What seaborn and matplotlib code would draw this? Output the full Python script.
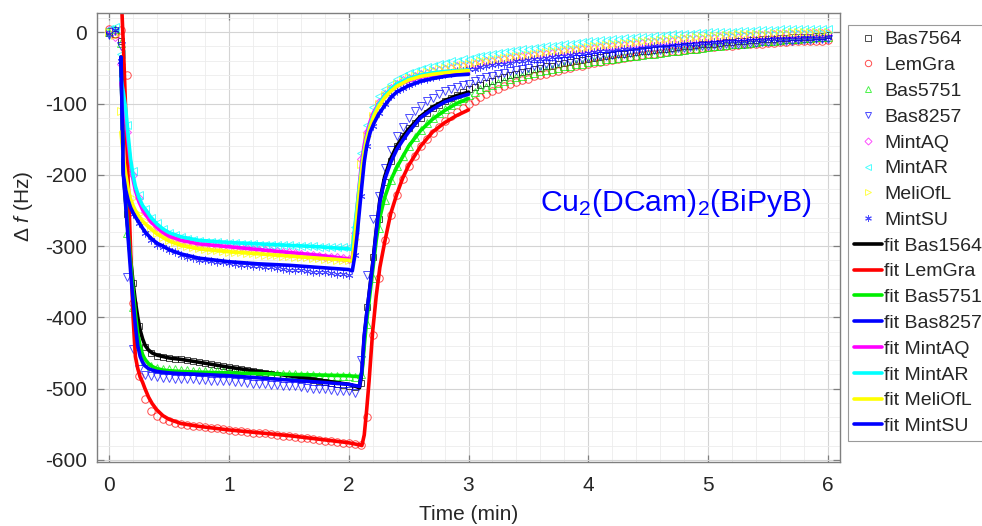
import numpy as np
import matplotlib
matplotlib.use("Agg")
import matplotlib.pyplot as plt
from matplotlib.lines import Line2D
from matplotlib.ticker import MultipleLocator
import seaborn as sns

# ---------------------------------------------------------------- data
# QCM frequency shift, sampled every 3 s (0.05 min) from 0 to 6 min
time_min = np.round(np.linspace(0.0, 6.0, 121), 2)

bas7564 = [
    2, -3, -12, -255, -352, -412, -441, -450, -454, -456,
    -457, -458, -459, -460, -461, -463, -464, -466, -467, -469,
    -470, -471, -473, -474, -475, -477, -478, -480, -481, -482,
    -483, -485, -486, -487, -488, -490, -491, -492, -493, -495,
    -496, -498, -492, -385, -315, -262, -210, -180, -160, -146,
    -135, -127, -120, -113, -107, -102, -97, -92, -88, -84,
    -80, -77, -74, -71, -68, -65, -63, -60, -58, -56,
    -54, -52, -50, -48, -47, -45, -43, -42, -40, -39,
    -37, -36, -35, -33, -32, -31, -30, -29, -28, -27,
    -26, -25, -24, -23, -22, -21, -20, -19, -18, -17,
    -17, -16, -15, -14, -14, -13, -12, -11, -11, -10,
    -9, -9, -8, -8, -7, -7, -6, -6, -5, -5,
    -4]
lemgra = [
    4, -2, 3, -60, -380, -482, -515, -532, -538, -542,
    -545, -548, -550, -551, -552, -553, -554, -555, -556, -557,
    -558, -559, -560, -561, -562, -562, -563, -564, -565, -566,
    -567, -568, -569, -570, -571, -572, -573, -574, -575, -576,
    -577, -578, -579, -540, -425, -345, -292, -256, -228, -206,
    -188, -173, -160, -150, -141, -133, -125, -118, -112, -106,
    -100, -96, -91, -87, -83, -79, -76, -73, -70, -67,
    -65, -62, -60, -58, -56, -54, -52, -50, -48, -47,
    -45, -43, -42, -40, -39, -37, -36, -35, -33, -32,
    -31, -30, -29, -28, -27, -26, -25, -24, -23, -22,
    -21, -21, -20, -19, -19, -18, -17, -17, -16, -16,
    -15, -15, -14, -14, -13, -13, -13, -12, -12, -12,
    -11]
bas5751 = [
    1, 4, -15, -282, -385, -440, -461, -468, -471, -472,
    -473, -473, -474, -474, -475, -475, -475, -476, -476, -476,
    -477, -477, -477, -478, -478, -478, -479, -479, -479, -480,
    -480, -480, -481, -481, -481, -482, -482, -482, -483, -483,
    -483, -484, -480, -410, -345, -275, -236, -208, -188, -173,
    -159, -147, -137, -128, -121, -114, -108, -102, -97, -92,
    -88, -84, -80, -77, -74, -71, -68, -65, -63, -61,
    -59, -57, -55, -53, -51, -50, -48, -47, -45, -44,
    -42, -41, -40, -38, -37, -36, -35, -34, -33, -32,
    -31, -30, -29, -28, -27, -26, -25, -24, -23, -22,
    -21, -20, -19, -18, -17, -17, -16, -15, -14, -13,
    -12, -12, -11, -10, -10, -9, -8, -8, -7, -6,
    -6]
bas8257 = [
    -4, 2, -20, -343, -445, -472, -481, -483, -484, -485,
    -485, -486, -486, -487, -487, -488, -488, -489, -489, -490,
    -490, -491, -491, -492, -493, -493, -494, -495, -495, -496,
    -497, -497, -498, -499, -500, -500, -501, -502, -503, -503,
    -504, -506, -460, -340, -262, -230, -190, -165, -146, -133,
    -120, -110, -103, -97, -92, -87, -83, -80, -77, -74,
    -72, -69, -66, -63, -61, -59, -57, -55, -53, -52,
    -50, -48, -47, -45, -44, -42, -41, -40, -38, -37,
    -36, -35, -34, -33, -32, -31, -30, -29, -28, -27,
    -26, -25, -25, -24, -23, -22, -22, -21, -20, -20,
    -19, -18, -18, -17, -17, -16, -16, -15, -15, -14,
    -14, -13, -13, -12, -12, -11, -11, -11, -10, -10,
    -10]
mintaq = [
    3, -6, -45, -140, -200, -232, -252, -264, -273, -280,
    -285, -289, -292, -294, -296, -297, -298, -299, -300, -300,
    -301, -302, -302, -303, -304, -305, -306, -307, -307, -308,
    -309, -310, -311, -312, -313, -314, -315, -315, -316, -317,
    -318, -282, -178, -140, -116, -98, -86, -78, -72, -67,
    -64, -61, -59, -57, -55, -53, -51, -50, -48, -47,
    -46, -44, -43, -41, -40, -39, -37, -36, -35, -34,
    -33, -32, -31, -30, -29, -28, -27, -26, -25, -24,
    -23, -22, -21, -20, -19, -18, -18, -17, -16, -15,
    -14, -14, -13, -12, -12, -11, -10, -10, -9, -9,
    -8, -8, -7, -7, -6, -6, -5, -5, -4, -4,
    -4, -3, -3, -3, -2, -2, -2, -1, -1, -1,
    -1]
mintar = [
    5, 8, -30, -130, -195, -228, -248, -260, -268, -276,
    -281, -285, -288, -290, -292, -293, -294, -295, -295, -296,
    -296, -296, -297, -297, -297, -298, -298, -298, -299, -299,
    -299, -300, -300, -300, -300, -301, -301, -301, -302, -302,
    -302, -273, -170, -130, -105, -90, -80, -72, -66, -61,
    -57, -54, -51, -49, -47, -45, -43, -41, -40, -38,
    -37, -35, -34, -32, -31, -29, -28, -27, -25, -24,
    -23, -22, -21, -20, -19, -18, -17, -16, -15, -14,
    -13, -12, -11, -11, -10, -9, -8, -8, -7, -6,
    -6, -5, -5, -4, -3, -3, -2, -2, -1, -1,
    0, 0, 1, 1, 1, 2, 2, 2, 3, 3,
    3, 3, 4, 4, 4, 4, 4, 5, 5, 5,
    5]
meliofl = [
    1, -4, -110, -190, -232, -255, -265, -274, -281, -287,
    -291, -295, -298, -300, -302, -303, -304, -305, -306, -307,
    -308, -308, -309, -310, -310, -311, -312, -312, -313, -314,
    -314, -315, -315, -316, -317, -317, -318, -318, -319, -320,
    -320, -290, -185, -146, -118, -100, -88, -79, -73, -68,
    -64, -61, -58, -56, -54, -52, -50, -49, -47, -46,
    -44, -43, -41, -40, -39, -37, -36, -35, -34, -33,
    -32, -30, -29, -28, -27, -26, -25, -24, -23, -22,
    -21, -20, -19, -18, -17, -16, -15, -15, -14, -13,
    -12, -12, -11, -10, -9, -9, -8, -8, -7, -6,
    -6, -5, -5, -4, -4, -3, -3, -3, -2, -2,
    -2, -1, -1, -1, 0, 0, 0, 0, 1, 1,
    1]
mintsu = [
    -3, 3, -40, -228, -255, -268, -282, -291, -298, -302,
    -306, -309, -312, -315, -317, -319, -320, -321, -322, -323,
    -324, -325, -326, -327, -328, -328, -329, -330, -331, -332,
    -333, -333, -334, -335, -336, -336, -337, -338, -339, -339,
    -340, -312, -230, -160, -132, -114, -100, -90, -83, -78,
    -74, -70, -67, -65, -63, -61, -59, -57, -55, -54,
    -52, -51, -49, -48, -46, -45, -44, -43, -41, -40,
    -39, -38, -37, -36, -35, -34, -33, -32, -31, -30,
    -29, -28, -27, -26, -26, -25, -24, -23, -23, -22,
    -21, -20, -20, -19, -18, -18, -17, -17, -16, -15,
    -15, -14, -14, -13, -13, -12, -12, -11, -11, -11,
    -10, -10, -10, -9, -9, -9, -8, -8, -8, -8,
    -7]

# fitted curves, strong-uptake samples
fit_time_a = [0.10, 0.12, 0.14, 0.16, 0.18, 0.20, 0.22, 0.24, 0.26, 0.28,
              0.30, 0.33, 0.36, 0.40, 0.45, 0.50, 0.60, 0.75, 1.00, 1.25,
              1.50, 1.75, 2.00, 2.06, 2.09, 2.11, 2.13, 2.15, 2.17, 2.20,
              2.23, 2.26, 2.30, 2.35, 2.40, 2.45, 2.50, 2.60, 2.70, 2.80,
              2.90, 3.00]
fit_bas1564 = [-35, -195, -240, -280, -318, -350, -378, -400, -418, -430,
               -439, -446, -450, -453, -455, -457, -459, -463, -470, -476,
               -482, -488, -494, -497, -499, -478, -428, -397, -368, -325,
               -278, -236, -203, -178, -160, -147, -136, -118, -105, -96,
               -89, -84]
fit_lemgra = [60, -19, -114, -209, -304, -397, -455, -472, -484, -491,
              -500, -512, -521, -530, -538, -543, -549, -553, -558, -562,
              -566, -571, -576, -578, -579, -580, -565, -530, -490, -420,
              -370, -330, -295, -255, -228, -205, -187, -160, -140, -127,
              -117, -109]
fit_bas5751 = [-35, -195, -240, -282, -322, -360, -395, -423, -441, -452,
               -459, -465, -469, -472, -474, -475, -476, -477, -478, -479,
               -480, -481, -482, -483, -483, -480, -440, -405, -378, -335,
               -292, -260, -232, -208, -190, -175, -160, -138, -122, -110,
               -100, -93]
fit_bas8257 = [-35, -200, -245, -290, -335, -375, -412, -440, -455, -463,
               -468, -472, -474, -476, -477, -478, -479, -480, -482, -485,
               -488, -491, -494, -496, -497, -475, -425, -395, -368, -327,
               -280, -238, -207, -183, -165, -152, -140, -120, -108, -98,
               -92, -87]

# fitted curves, weak-uptake samples
fit_time_b = [0.10, 0.12, 0.14, 0.16, 0.18, 0.20, 0.22, 0.25, 0.28, 0.31,
              0.35, 0.40, 0.45, 0.50, 0.60, 0.75, 1.00, 1.25, 1.50, 1.75,
              2.00, 2.03, 2.05, 2.07, 2.09, 2.11, 2.13, 2.15, 2.18, 2.21,
              2.25, 2.30, 2.35, 2.40, 2.50, 2.60, 2.70, 2.80, 2.90, 3.00]
fit_mintaq = [-70, -95, -120, -155, -185, -206, -222, -238, -249, -257,
              -266, -274, -281, -286, -292, -297, -301, -305, -309, -313,
              -318, -319, -280, -248, -212, -180, -158, -142, -125, -112,
              -100, -89, -81, -75, -68, -63, -60, -58, -57, -56]
fit_mintar = [-65, -85, -108, -145, -178, -200, -216, -232, -243, -250,
              -260, -269, -276, -281, -287, -292, -295, -297, -299, -301,
              -304, -305, -275, -245, -215, -188, -165, -148, -129, -115,
              -101, -89, -80, -73, -65, -60, -57, -55, -54, -53]
fit_meliofl = [-140, -175, -200, -220, -234, -243, -250, -258, -265, -270,
               -276, -283, -288, -293, -299, -304, -308, -311, -314, -317,
               -320, -321, -290, -255, -222, -192, -168, -150, -132, -118,
               -104, -92, -83, -76, -67, -62, -59, -57, -55, -54]
fit_mintsu = [-35, -200, -222, -236, -246, -253, -259, -267, -275, -282,
              -289, -296, -300, -305, -311, -317, -322, -325, -327, -330,
              -333, -335, -315, -285, -250, -215, -182, -160, -140, -128,
              -115, -103, -92, -84, -75, -69, -65, -62, -60, -59]

data_labels = ["Bas7564", "LemGra", "Bas5751", "Bas8257",
               "MintAQ", "MintAR", "MeliOfL", "MintSU"]
fit_labels = ["fit Bas1564", "fit LemGra", "fit Bas5751", "fit Bas8257",
              "fit MintAQ", "fit MintAR", "fit MeliOfL", "fit MintSU"]

# ---------------------------------------------------------------- style
sns.set_theme(style="white")
plt.rcParams["font.family"] = ["Liberation Sans", "DejaVu Sans"]
plt.rcParams["mathtext.fontset"] = "custom"
plt.rcParams["mathtext.rm"] = "Liberation Sans"
plt.rcParams["mathtext.it"] = "Liberation Sans:italic"
plt.rcParams["axes.unicode_minus"] = False

colors = ["#000000", "#ff0000", "#00ee00", "#0000ff",
          "#ff00ff", "#00ffff", "#ffff00", "#0000ff"]
markers = ["s", "o", "^", "v", "D", "<", ">", (6, 2, 0)]
marker_sizes = [4.4, 5.4, 5.2, 5.2, 4.2, 5.2, 5.2, 5.6]

fig = plt.figure(figsize=(9.82, 5.26), dpi=100)
ax = fig.add_axes([0.0988, 0.1217, 0.7566, 0.8536])

data_series = [bas7564, lemgra, bas5751, bas8257, mintaq, mintar, meliofl, mintsu]
fit_series = [(fit_time_a, fit_bas1564), (fit_time_a, fit_lemgra),
              (fit_time_a, fit_bas5751), (fit_time_a, fit_bas8257),
              (fit_time_b, fit_mintaq), (fit_time_b, fit_mintar),
              (fit_time_b, fit_meliofl), (fit_time_b, fit_mintsu)]

# measured points: open markers
for vals, c, m, ms in zip(data_series, colors, markers, marker_sizes):
    sns.lineplot(x=time_min, y=vals, ax=ax, estimator=None, sort=False,
                 legend=False, color=c, linestyle="none", marker=m,
                 markersize=ms, markerfacecolor="none", markeredgecolor=c,
                 markeredgewidth=0.7, alpha=0.7)

# fitted curves: thick solid lines on top
for (tt, vv), c in zip(fit_series, colors):
    sns.lineplot(x=tt, y=vv, ax=ax, estimator=None, sort=False,
                 legend=False, color=c, linewidth=2.6)

ax.set_xlim(-0.1, 6.1)
ax.set_ylim(-603, 27)
ax.xaxis.set_major_locator(MultipleLocator(1))
ax.yaxis.set_major_locator(MultipleLocator(100))
ax.xaxis.set_minor_locator(MultipleLocator(0.2))
ax.yaxis.set_minor_locator(MultipleLocator(20))
ax.grid(which="major", color="#d4d4d4", linewidth=0.8)
ax.grid(which="minor", color="#ececec", linewidth=0.6)
ax.set_axisbelow(True)

for s in ax.spines.values():
    s.set_visible(True)
    s.set_color("#7f7f7f")
    s.set_linewidth(1.0)
ax.tick_params(which="major", direction="in", length=5, width=0.9,
               color="#7f7f7f", top=True, right=True, bottom=True, left=True,
               labelsize=15, labelcolor="#262626")
ax.tick_params(axis="x", which="major", pad=10)
ax.tick_params(axis="y", which="major", pad=7)
ax.tick_params(which="minor", length=0)

ax.set_xlabel("Time (min)", fontsize=15, color="#262626")
ax.set_ylabel(r"Δ $\mathit{f}$ (Hz)", fontsize=15, color="#262626")
ax.xaxis.set_label_coords(0.5, -0.096)
ax.yaxis.set_label_coords(-0.083, 0.57)

ax.text(3.6, -251, r"Cu$_2$(DCam)$_2$(BiPyB)", color="#0000ff",
        fontsize=21.7, ha="left", va="baseline")

# legend outside the axes on the right
handles = [Line2D([], [], linestyle="none", marker=m, markersize=ms * 0.85,
                  markerfacecolor="none", markeredgecolor=c,
                  markeredgewidth=0.7, alpha=0.7)
           for c, m, ms in zip(colors, markers, marker_sizes)]
handles += [Line2D([], [], color=c, linewidth=2.6) for c in colors]
leg = fig.legend(handles, data_labels + fit_labels, loc="upper left",
                 bbox_to_anchor=(848 / 982, 1 - 25 / 526),
                 frameon=True, fancybox=False, framealpha=1,
                 edgecolor="#9a9a9a", fontsize=14, handlelength=1.45,
                 handletextpad=0.12, labelspacing=0.42, borderpad=0.3,
                 borderaxespad=0)
leg.get_frame().set_linewidth(0.8)

fig.savefig("out.png", dpi=100)
